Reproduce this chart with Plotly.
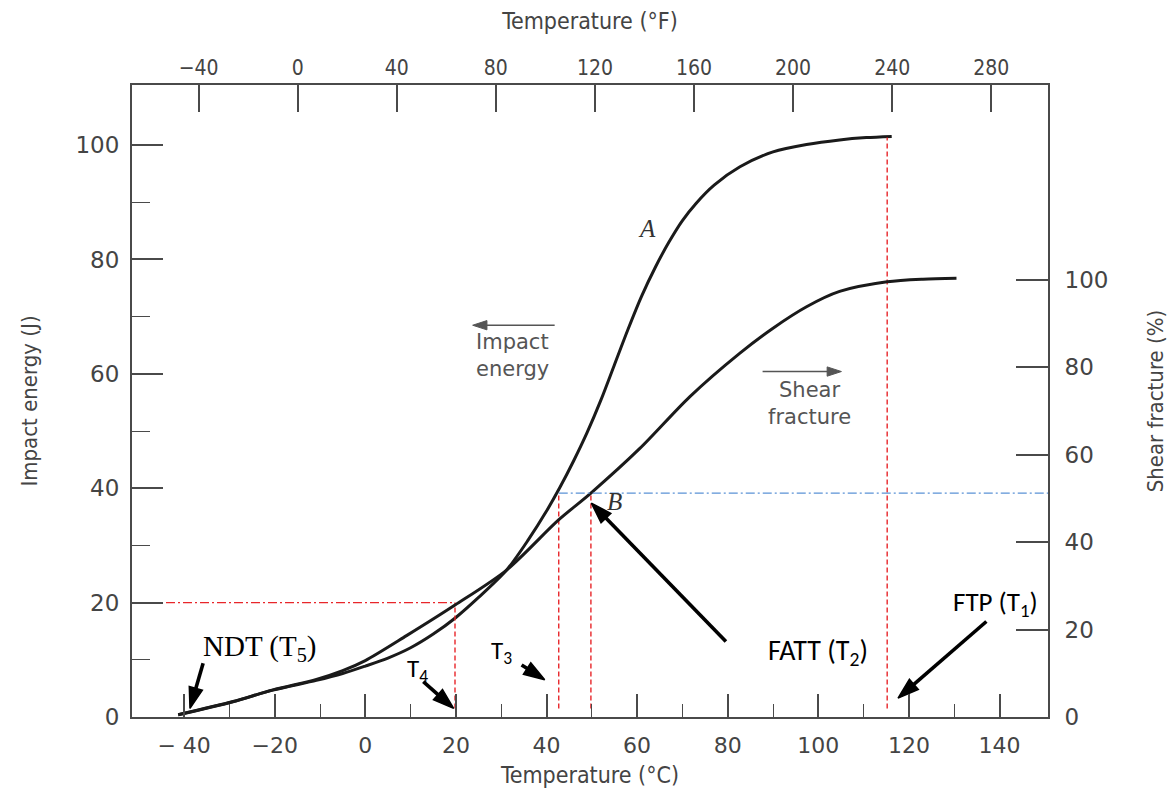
import plotly.graph_objects as go

# ---------------- data ----------------
# Curve A: impact energy (J) vs temperature (°C)
temp_a = [-41.3, -29.2, -20.4, -10.8, -5.0, 0.0, 5.0, 10.0, 15.0, 20.0, 25.0, 31.2,
          36.0, 40.0, 43.0, 46.0, 49.0, 52.0, 55.0, 58.0, 61.0, 64.0, 67.0, 70.0,
          73.0, 77.0, 82.7, 90.0, 97.4, 104.7, 110.6, 116.2]
energy_a = [0.4, 2.7, 4.7, 6.4, 7.6, 8.9, 10.3, 12.1, 14.5, 17.4, 20.9, 25.7,
            31.0, 36.0, 40.2, 44.8, 49.8, 55.4, 61.6, 67.8, 73.6, 78.6, 83.0, 86.8,
            89.8, 93.0, 96.2, 98.8, 100.1, 100.9, 101.3, 101.5]

# Curve B: shear fracture (%) vs temperature (°C)
temp_b = [-41.3, -29.2, -20.4, -10.8, -5.0, 0.0, 9.1, 19.8, 31.2, 42.6, 49.8, 60.6,
          71.6, 82.7, 90.0, 97.4, 104.7, 115.2, 123.1, 130.5]
shear_b = [0.5, 3.5, 6.2, 8.6, 10.6, 12.9, 18.6, 25.6, 33.6, 45.0, 51.2, 61.4,
           73.2, 83.2, 88.9, 93.8, 97.3, 99.5, 100.1, 100.3]

# axis ticks
c_ticks = [-40, -20, 0, 20, 40, 60, 80, 100, 120, 140]
c_labels = ["\u2212 40", "\u221220", "0", "20", "40", "60", "80", "100", "120", "140"]
c_minor = [-30, -10, 10, 30, 50, 70, 90, 110, 130]
f_ticks = [-40, 0, 40, 80, 120, 160, 200, 240, 280]
f_labels = ["\u221240", "0", "40", "80", "120", "160", "200", "240", "280"]
energy_ticks = [0, 20, 40, 60, 80, 100]
energy_minor = [10, 30, 50, 70, 90]
shear_ticks = [0, 20, 40, 60, 80, 100]

# characteristic temperatures / levels
T1_FTP = 115.2
T2_FATT = 49.8
T3 = 42.7
T4 = 19.8
E_T4 = 20
E_T3 = 39.2
E_T1 = 101.3
SHEAR_FATT = 51.2
LINE_BOTTOM = 1.5

C_RANGE = [-51.5, 150.7]
F_RANGE = [-66.9, 302.9]
E_RANGE = [0, 110.5]
S_RANGE = [0, 144.5]

# pointer arrows: (tail_T, tail_E, tip_T, tip_E)
label_arrows = [(41.8, 68.5, 23.7, 68.5), (87.7, 60.4, 105.1, 60.4)]
pointer_arrows = [(-35.8, 9.4, -38.7, 1.5),     # NDT
                  (12.8, 6.2, 19.5, 1.5),       # T4
                  (34.5, 9.1, 39.6, 6.5),       # T3
                  (79.6, 13.2, 49.9, 37.4),     # FATT
                  (137.1, 16.7, 117.6, 3.3)]    # FTP

# ---------------- figure ----------------
fig = go.Figure()

curve_line = dict(color="#1a1a1a", width=3, shape="spline", smoothing=0.8)
fig.add_trace(go.Scatter(x=temp_a, y=energy_a, mode="lines", line=curve_line,
                         name="A", hoverinfo="skip"))
fig.add_trace(go.Scatter(x=temp_b, y=shear_b, mode="lines", line=curve_line,
                         name="B", yaxis="y2", hoverinfo="skip"))

red = "#e8262a"
red_dash = dict(color=red, width=1.4, dash="5px,3px")
for tx, top in [(T1_FTP, E_T1), (T2_FATT, E_T3), (T3, E_T3), (T4, E_T4)]:
    fig.add_trace(go.Scatter(x=[tx, tx], y=[LINE_BOTTOM, top], mode="lines",
                             line=red_dash, hoverinfo="skip"))
fig.add_trace(go.Scatter(x=[C_RANGE[0], T4], y=[E_T4, E_T4], mode="lines",
                         line=dict(color=red, width=1.4, dash="9px,3px,2px,3px"),
                         hoverinfo="skip"))
fig.add_trace(go.Scatter(x=[T3, C_RANGE[1]], y=[SHEAR_FATT, SHEAR_FATT], mode="lines",
                         yaxis="y2",
                         line=dict(color="#5b92d6", width=1.3, dash="9px,3px,2px,3px"),
                         hoverinfo="skip"))
# carrier trace for the °F axis
fig.add_trace(go.Scatter(x=f_ticks, y=[None] * len(f_ticks), xaxis="x2", mode="lines",
                         hoverinfo="skip"))

# arrows drawn as line + arrow-head marker
for (x0, y0, x1, y1) in label_arrows:
    fig.add_trace(go.Scatter(x=[x0, x1], y=[y0, y1], mode="lines+markers",
                             line=dict(color="#555", width=1.6),
                             marker=dict(symbol=["circle", "arrow"], size=[0, 15],
                                         angleref="previous", color="#555", opacity=1,
                                         line=dict(width=1, color="#555")),
                             hoverinfo="skip"))
for (x0, y0, x1, y1) in pointer_arrows:
    fig.add_trace(go.Scatter(x=[x0, x1], y=[y0, y1], mode="lines+markers",
                             line=dict(color="black", width=3.6),
                             marker=dict(symbol=["circle", "arrow"], size=[0, 22],
                                         angleref="previous", color="black", opacity=1,
                                         line=dict(width=1.5, color="black")),
                             hoverinfo="skip"))

axis_gray = "#4a4a4a"
tick_font = dict(family="DejaVu Sans", size=23, color="#444")
title_font_h = dict(family="DejaVu Sans Condensed, Liberation Sans Narrow", size=23, color="#444")
title_font_v = dict(family="DejaVu Sans Condensed, Liberation Sans Narrow", size=22, color="#444")

common = dict(showgrid=False, zeroline=False, showline=True, linecolor=axis_gray,
              linewidth=2, ticks="inside", tickcolor=axis_gray, tickwidth=1.5,
              tickmode="array", automargin=False)

fig.update_layout(
    width=1160, height=780,
    margin=dict(l=124, r=120, t=77, b=71, pad=0, autoexpand=False),
    plot_bgcolor="white", paper_bgcolor="white",
    showlegend=False,
    xaxis=dict(range=C_RANGE, tickvals=c_ticks, ticktext=c_labels, ticklen=23,
               tickfont=dict(family="DejaVu Sans", size=22, color="#444"),
               ticklabelstandoff=8,
               minor=dict(tickmode="array", tickvals=c_minor, ticks="inside", ticklen=13,
                          tickcolor=axis_gray, tickwidth=1.3, showgrid=False),
               title=dict(text="Temperature (°C)", font=title_font_h, standoff=19),
               **common),
    xaxis2=dict(range=F_RANGE, overlaying="x", side="top", anchor="y",
                tickvals=f_ticks, ticktext=f_labels, ticklen=27,
                tickfont=dict(family="DejaVu Sans Condensed", size=21, color="#444"),
                ticklabelstandoff=0,
                title=dict(text="Temperature (°F)", font=title_font_h, standoff=26),
                **common),
    yaxis=dict(range=E_RANGE, tickvals=energy_ticks, ticklen=31,
               tickfont=tick_font, ticklabelstandoff=6,
               minor=dict(tickmode="array", tickvals=energy_minor, ticks="inside", ticklen=18,
                          tickcolor=axis_gray, tickwidth=1.3, showgrid=False),
               title=dict(text="Impact energy (J)", font=title_font_v, standoff=32),
               **common),
    yaxis2=dict(range=S_RANGE, overlaying="y", side="right", anchor="x",
                tickvals=shear_ticks, ticklen=32, tickfont=tick_font,
                ticklabelstandoff=10,
                title=dict(text="Shear fracture (%)", font=title_font_v, standoff=42),
                **common),
)

ann = []
serif = "Liberation Serif, Times New Roman, serif"
calib = "Carlito, Lato, sans-serif"
gray_sans = dict(family="DejaVu Sans", size=21, color="#555")

def txt(x, y, text, font, yref="y"):
    ann.append(dict(x=x, y=y, xref="x", yref=yref, text=text, showarrow=False,
                    font=font, xanchor="center", yanchor="middle"))

txt(32.4, 65.6, "Impact", gray_sans)
txt(32.4, 60.8, "energy", gray_sans)
txt(98.1, 57.2, "Shear", gray_sans)
txt(98.1, 52.5, "fracture", gray_sans)
txt(62.2, 85.4, "<i>A</i>", dict(family=serif, size=25, color="#333"))
txt(55.1, 37.6, "<i>B</i>", dict(family=serif, size=25, color="#333"))
txt(-23.3, 12.1, "NDT (T<sub>5</sub>)", dict(family=serif, size=29, color="black"))
txt(11.6, 8.2, "T<sub>4</sub>", dict(family=calib, size=25, color="black"))
txt(30.1, 11.4, "T<sub>3</sub>", dict(family=calib, size=25, color="black"))
txt(99.9, 11.4, "FATT (T<sub>2</sub>)", dict(family=calib, size=28, color="black"))
txt(139.0, 19.8, "FTP (T<sub>1</sub>)", dict(family=calib, size=27, color="black"))

fig.update_layout(annotations=ann)

fig.write_html("out.html")
